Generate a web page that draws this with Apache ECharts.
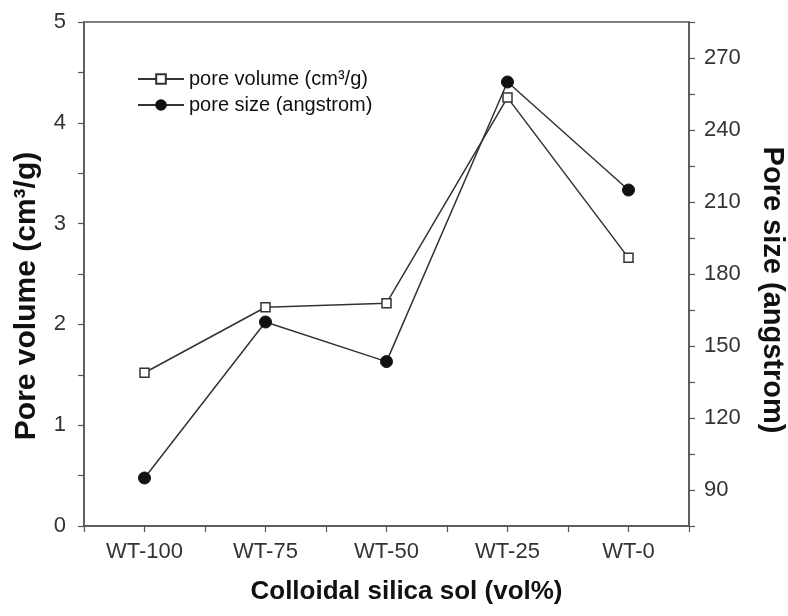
<!DOCTYPE html>
<html>
<head>
<meta charset="utf-8">
<script src="https://cdn.jsdelivr.net/npm/echarts@6/dist/echarts.min.js"></script>
<style>
  html, body { margin: 0; padding: 0; background: #fff; }
  #chart { width: 788px; height: 616px; }
</style>
</head>
<body>
<div id="chart"></div>
<script>
// Samples, in plotting order along the x axis
const categories = ['WT-100', 'WT-75', 'WT-50', 'WT-25', 'WT-0'];
// Pore volume, cm3/g (left axis)
const poreVolume = [1.52, 2.17, 2.21, 4.25, 2.66];
// Pore size, angstrom (right axis)
const poreSize = [95, 160, 143.5, 260, 215];

const FONT = '"Liberation Sans", Arial, sans-serif';
const AXIS_COLOR = '#555';
const LABEL_COLOR = '#333';

// x positions: sample i sits at i + 1 on a numeric axis, so ticks can be
// drawn both at the samples and half-way between them
const pairs = (vals) => vals.map((v, i) => [i + 1, v]);

const chart = echarts.init(document.getElementById('chart'), null, { renderer: 'canvas' });

chart.setOption({
  backgroundColor: '#fff',
  animation: false,
  grid: {
    left: 84, right: 99, top: 22, bottom: 90,
    containLabel: false, outerBoundsMode: 'none',
    show: true, borderColor: AXIS_COLOR, borderWidth: 1.5, backgroundColor: 'transparent'
  },
  legend: {
    orient: 'vertical',
    left: 132, top: 64,
    itemWidth: 46, itemHeight: 12, itemGap: 6,
    textStyle: { fontFamily: FONT, fontSize: 20, color: '#111' },
    data: ['pore volume (cm³/g)', 'pore size (angstrom)']
  },
  xAxis: {
    type: 'value',
    min: 0.5, max: 5.5, interval: 0.5,
    splitLine: { show: false },
    axisLine: { lineStyle: { color: AXIS_COLOR, width: 1.5 } },
    axisTick: { show: true, length: 6, lineStyle: { color: AXIS_COLOR, width: 1.2 } },
    axisLabel: {
      margin: 15, fontFamily: FONT, fontSize: 22, color: LABEL_COLOR,
      showMinLabel: true, showMaxLabel: true,
      formatter: (v) => Number.isInteger(v) ? (categories[v - 1] || '') : ''
    },
    name: 'Colloidal silica sol (vol%)',
    nameLocation: 'middle', nameGap: 53,
    nameTextStyle: {
      fontFamily: FONT, fontSize: 26, fontWeight: 'bold', color: '#111',
      padding: [0, 0, 0, 40]
    }
  },
  yAxis: [
    {
      type: 'value', position: 'left',
      min: 0, max: 5, interval: 0.5,
      splitLine: { show: false },
      axisLine: { show: true, lineStyle: { color: AXIS_COLOR, width: 1.5 } },
      axisTick: { show: true, length: 6, lineStyle: { color: AXIS_COLOR, width: 1.2 } },
      axisLabel: {
        margin: 18, fontFamily: FONT, fontSize: 22, color: LABEL_COLOR,
        formatter: (v) => Number.isInteger(v) ? String(v) : ''
      },
      name: 'Pore volume (cm³/g)',
      nameLocation: 'middle', nameGap: 42,
      nameTextStyle: {
        fontFamily: FONT, fontSize: 30, fontWeight: 'bold', color: '#111',
        padding: [0, 44, 0, 0]
      }
    },
    {
      type: 'value', position: 'right',
      min: 75, max: 285, interval: 15,
      splitLine: { show: false },
      axisLine: { show: true, lineStyle: { color: AXIS_COLOR, width: 1.5 } },
      axisTick: { show: true, length: 6, lineStyle: { color: AXIS_COLOR, width: 1.2 } },
      axisLabel: {
        margin: 15, fontFamily: FONT, fontSize: 22, color: LABEL_COLOR,
        formatter: (v) => ((v - 90) % 30 === 0) ? String(v) : ''
      },
      name: 'Pore size (angstrom)',
      nameLocation: 'middle', nameGap: 68, nameRotate: -90,
      nameTextStyle: {
        fontFamily: FONT, fontSize: 29, fontWeight: 'bold', color: '#111',
        padding: [0, 0, 0, 32]
      }
    }
  ],
  series: [
    {
      name: 'pore volume (cm³/g)',
      type: 'line', yAxisIndex: 0,
      data: pairs(poreVolume),
      symbol: 'rect', symbolSize: 9,
      lineStyle: { color: '#333', width: 1.5 },
      itemStyle: { color: '#fff', borderColor: '#333', borderWidth: 1.5 }
    },
    {
      name: 'pore size (angstrom)',
      type: 'line', yAxisIndex: 1,
      data: pairs(poreSize),
      symbol: 'circle', symbolSize: 12,
      lineStyle: { color: '#333', width: 1.5 },
      itemStyle: { color: '#111', borderColor: '#111', borderWidth: 1 }
    }
  ]
});
</script>
</body>
</html>
